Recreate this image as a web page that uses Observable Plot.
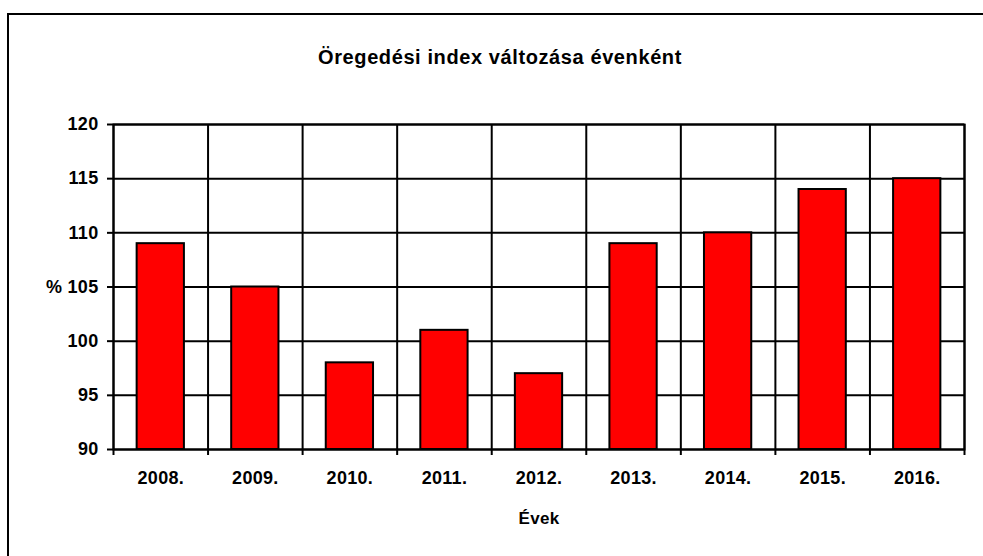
<!DOCTYPE html>
<html>
<head>
<meta charset="utf-8">
<script src="https://cdn.jsdelivr.net/npm/d3@7"></script>
<script src="https://cdn.jsdelivr.net/npm/@observablehq/plot@0.6"></script>
<style>
  html, body { margin: 0; padding: 0; background: #fff; overflow: hidden; }
  #wrap { position: relative; width: 983px; height: 556px; overflow: hidden; background: #fff; }
  #frame { position: absolute; left: 7px; top: 13px; width: 1000px; height: 600px; border: 2px solid #000; }
  #title { position: absolute; left: 0; width: 1000px; top: 46px; text-align: center; letter-spacing: 0.6px;
           font-family: "Liberation Sans", Arial, sans-serif; font-weight: bold; font-size: 20px; color: #000; }
  #chart { position: absolute; left: 0; top: 0; }
</style>
</head>
<body>
<div id="wrap">
  <div id="frame"></div>
  <div id="title">Öregedési index változása évenként</div>
  <div id="chart"></div>
</div>
<script>
const years = ["2008.", "2009.", "2010.", "2011.", "2012.", "2013.", "2014.", "2015.", "2016."];
const values = [109, 105, 98, 101, 97, 109, 110, 114, 115];
const yTicks = [90, 95, 100, 105, 110, 115, 120];
const yLabel = "%";
const xLabel = "Évek";

const data = years.map((year, i) => ({year, i, value: values[i]}));
const boundaries = d3.range(years.length + 1);
const centers = years.map((_, i) => i + 0.5);
const barPad = 0.25;

const plot = Plot.plot({
  width: 983,
  height: 556,
  marginLeft: 113,
  marginRight: 19,
  marginTop: 124,
  marginBottom: 107,
  style: {fontFamily: "'Liberation Sans', Arial, sans-serif", fontSize: "18px", fontWeight: "bold", color: "#000", background: "transparent", letterSpacing: "0.3px"},
  x: {type: "linear", domain: [0, years.length]},
  y: {domain: [90, 120]},
  marks: [
    Plot.ruleY(yTicks, {stroke: "#000", strokeWidth: 2}),
    Plot.ruleX(boundaries, {y1: 90, y2: 120, stroke: "#000", strokeWidth: 2}),
    Plot.rectY(data, {x1: d => d.i + barPad, x2: d => d.i + 1 - barPad, y1: 90, y2: "value", fill: "#ff0000", stroke: "#000", strokeWidth: 2}),
    Plot.axisY(yTicks, {tickSize: 6, tickPadding: 9, strokeWidth: 2, label: null,
      tickFormat: d => d === 105 ? `${yLabel} ${d}` : `${d}`}),
    Plot.axisX(boundaries, {tickSize: 6, strokeWidth: 2, tickFormat: () => "", label: null}),
    Plot.axisX(centers, {tickSize: 0, tickPadding: 22, label: null, tickFormat: d => years[Math.floor(d)]}),
    Plot.text([xLabel], {frameAnchor: "bottom", dy: 69, lineAnchor: "middle", fontSize: 17}),
    Plot.frame({stroke: "#000", strokeWidth: 2})
  ]
});
document.getElementById("chart").appendChild(plot);
</script>
</body>
</html>
